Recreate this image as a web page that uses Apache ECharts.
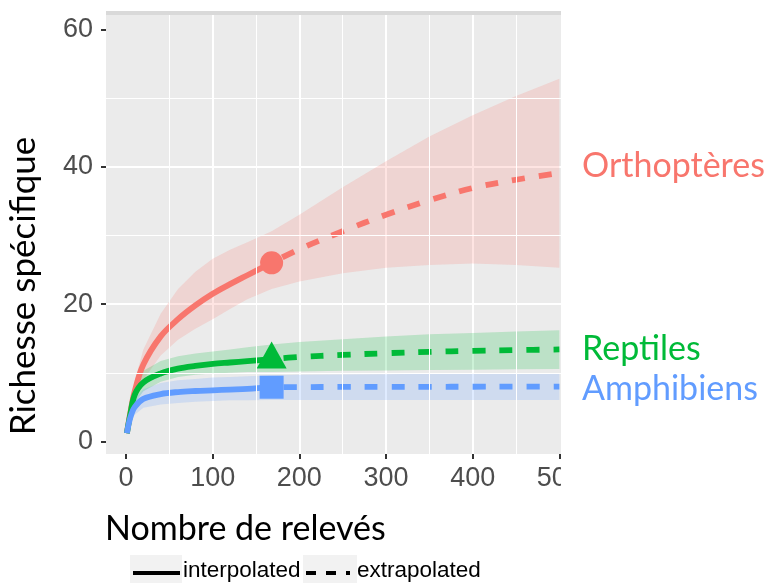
<!DOCTYPE html>
<html>
<head>
<meta charset="utf-8">
<script src="https://cdn.jsdelivr.net/npm/echarts@6/dist/echarts.min.js"></script>
<style>
html,body{margin:0;padding:0;background:#fff;}
#c{width:767px;height:585px;}
</style>
</head>
<body>
<div id="c"></div>
<script>
// ---- data ----
const groups = ['Orthoptères', 'Reptiles', 'Amphibiens'];
const colors = ['#F8766D', '#00BA38', '#619CFF'];
const xTicks = [0, 100, 200, 300, 400, 500];
const yTicks = [0, 20, 40, 60];
const minorX = [50, 150, 250, 350, 450];
const minorY = [10, 30, 50];

const interpX = [1, 5, 10, 20, 40, 60, 80, 100, 120, 140, 168];
const orthoInterp = [1.2, 4.2, 7.3, 11.2, 15.3, 17.8, 19.8, 21.5, 22.9, 24.2, 26.0];
const reptInterp  = [1.2, 4.0, 6.8, 8.6, 9.9, 10.6, 11.0, 11.3, 11.5, 11.7, 12.0];
const ampInterp   = [1.2, 3.5, 5.0, 6.2, 6.9, 7.2, 7.35, 7.45, 7.55, 7.65, 7.9];

const extrapX = [168, 200, 250, 300, 350, 400, 450, 500];
const orthoExtrap = [26.0, 28.0, 30.6, 33.0, 35.1, 36.9, 38.1, 39.1];
const reptExtrap  = [12.0, 12.3, 12.6, 12.85, 13.05, 13.2, 13.3, 13.4];
const ampExtrap   = [7.9, 7.92, 7.94, 7.95, 7.96, 7.97, 7.98, 8.0];

const obsX = [168, 168, 168];
const obsY = [26, 12, 7.9];

const bandX = [1, 5, 10, 20, 40, 60, 80, 100, 120, 140, 168, 200, 250, 300, 350, 400, 450, 500];
const orthoLow = [1.0, 3.6, 5.8, 9.0, 12.5, 14.8, 16.4, 17.8, 19.3, 20.7, 22.2, 23.3, 24.5, 25.3, 25.7, 25.9, 25.7, 25.3];
const orthoUp  = [1.3, 5.0, 8.8, 13.4, 18.6, 22.2, 24.7, 26.6, 27.9, 29.0, 30.6, 33.0, 37.0, 40.8, 44.4, 47.5, 50.3, 52.8];
const reptLow  = [1.0, 3.3, 5.6, 7.3, 8.7, 9.4, 9.7, 9.9, 10.0, 10.1, 10.1, 10.2, 10.3, 10.35, 10.4, 10.45, 10.5, 10.55];
const reptUp   = [1.3, 4.8, 8.0, 10.3, 11.7, 12.4, 12.8, 13.1, 13.4, 13.7, 14.1, 14.5, 14.9, 15.3, 15.6, 15.8, 16.0, 16.2];
const ampLow   = [1.0, 2.7, 3.9, 4.9, 5.4, 5.6, 5.8, 5.9, 6.0, 6.0, 6.05, 6.05, 6.05, 6.05, 6.05, 6.05, 6.05, 6.05];
const ampUp    = [1.3, 4.2, 6.2, 7.6, 8.5, 8.9, 9.1, 9.3, 9.4, 9.5, 9.65, 9.7, 9.75, 9.8, 9.85, 9.85, 9.9, 9.9];

const legendLabels = ['interpolated', 'extrapolated'];
const xTitle = 'Nombre de relevés';
const yTitle = 'Richesse spécifique';

// ---- build ----
const zip = (xs, ys) => xs.map((x, i) => [x, ys[i]]);
const interps = [orthoInterp, reptInterp, ampInterp];
const extraps = [orthoExtrap, reptExtrap, ampExtrap];
const lows = [orthoLow, reptLow, ampLow];
const ups = [orthoUp, reptUp, ampUp];
const symbols = ['circle', 'triangle', 'rect'];
const symbolSizes = [23, [30, 27], [24, 23]];
const symbolOffsets = [[0, 0], [0, -4], [0, 0]];

const series = [];
// minor gridlines (drawn beneath everything)
series.push({
  type: 'line', data: [], z: 1, silent: true, animation: false,
  markLine: {
    silent: true, symbol: ['none', 'none'], animation: false,
    label: { show: false },
    lineStyle: { color: '#ffffff', width: 1, type: 'solid' },
    data: minorX.map(v => ({ xAxis: v })).concat(minorY.map(v => ({ yAxis: v })))
  }
});
// ribbons (confidence bands) as polygons through the axis scales
groups.forEach((g, k) => {
  series.push({
    type: 'custom', name: g + ' CI', z: 2, silent: true, animation: false,
    data: [[bandX[0], lows[k][0]]],
    clip: true,
    renderItem: function (params, api) {
      const pts = [];
      for (let i = 0; i < bandX.length; i++) pts.push(api.coord([bandX[i], ups[k][i]]));
      for (let i = bandX.length - 1; i >= 0; i--) pts.push(api.coord([bandX[i], lows[k][i]]));
      return {
        type: 'polygon',
        shape: { points: pts },
        style: { fill: colors[k], opacity: 0.2 }
      };
    }
  });
});
// lines and observed points
groups.forEach((g, k) => {
  series.push({
    name: g + ' interpolated', type: 'line', data: zip(interpX, interps[k]), z: 3,
    smooth: 0.35, symbol: 'none', animation: false,
    lineStyle: { color: colors[k], width: 5.8, cap: 'butt', join: 'round' }
  });
  series.push({
    name: g + ' extrapolated', type: 'line', data: zip(extrapX, extraps[k]), z: 3,
    smooth: 0.35, symbol: 'none', animation: false,
    lineStyle: { color: colors[k], width: 5.8, type: [13, 14], dashOffset: -12, cap: 'butt' }
  });
  series.push({
    name: g, type: 'scatter', data: [[obsX[k], obsY[k]]], z: 4,
    symbol: symbols[k], symbolSize: symbolSizes[k], symbolOffset: symbolOffsets[k],
    itemStyle: { color: colors[k], opacity: 1 }, animation: false
  });
});

const labelFont = 'Lato, "Open Sans", sans-serif';
const tickFont = '"Liberation Sans", Arial, sans-serif';

const option = {
  animation: false,
  grid: {
    left: 106, top: 11, width: 455, height: 443,
    show: true, backgroundColor: '#EBEBEB', borderWidth: 0
  },
  xAxis: {
    type: 'value', min: -23.1, max: 501.9, splitNumber: 5,
    axisLine: { show: false, onZero: false },
    axisTick: { show: true, length: 5, lineStyle: { color: '#333333', width: 2 }, customValues: xTicks },
    axisLabel: {
      customValues: xTicks, margin: 11, color: '#4D4D4D', fontSize: 27, fontFamily: tickFont,
      formatter: v => (xTicks.indexOf(v) >= 0 ? String(v) : '')
    },
    splitLine: { show: true, showMinLine: false, showMaxLine: false, lineStyle: { color: '#ffffff', width: 2 } }
  },
  yAxis: {
    type: 'value', min: -1.82, max: 62.66, splitNumber: 3,
    axisLine: { show: false, onZero: false },
    axisTick: { show: true, length: 5, lineStyle: { color: '#333333', width: 2 }, customValues: yTicks },
    axisLabel: {
      customValues: yTicks, margin: 13, color: '#4D4D4D', fontSize: 27, fontFamily: tickFont,
      formatter: v => (yTicks.indexOf(v) >= 0 ? String(v) : '')
    },
    splitLine: { show: true, showMinLine: false, showMaxLine: false, lineStyle: { color: '#ffffff', width: 2 } }
  },
  series: series,
  graphic: [
    // top strip
    { type: 'rect', z: 50, shape: { x: 106, y: 11, width: 455, height: 4 }, style: { fill: '#D9D9D9' } },
    // crop at right edge
    { type: 'rect', z: 100, shape: { x: 561, y: 0, width: 206, height: 505 }, style: { fill: '#ffffff' } },
    // group labels
    { type: 'text', z: 110, x: 582, y: 166, style: { text: groups[0], fill: colors[0], font: '34px ' + labelFont, verticalAlign: 'middle' } },
    { type: 'text', z: 110, x: 582, y: 349, style: { text: groups[1], fill: colors[1], font: '34px ' + labelFont, verticalAlign: 'middle' } },
    { type: 'text', z: 110, x: 582, y: 389, style: { text: groups[2], fill: colors[2], font: '34px ' + labelFont, verticalAlign: 'middle' } },
    // axis titles
    { type: 'text', z: 110, x: 105, y: 529, style: { text: xTitle, fill: '#000', font: '34px ' + labelFont, verticalAlign: 'middle' } },
    { type: 'text', z: 110, x: 24, y: 286, rotation: Math.PI / 2, style: { text: yTitle, fill: '#000', font: '35px ' + labelFont, verticalAlign: 'middle', align: 'center' } },
    // legend
    { type: 'rect', z: 110, shape: { x: 130, y: 555, width: 52, height: 28 }, style: { fill: '#F2F2F2' } },
    { type: 'rect', z: 110, shape: { x: 303, y: 555, width: 54, height: 28 }, style: { fill: '#F2F2F2' } },
    { type: 'line', z: 111, shape: { x1: 133, y1: 573, x2: 180, y2: 573 }, style: { stroke: '#000', lineWidth: 4 } },
    { type: 'line', z: 111, shape: { x1: 306, y1: 573, x2: 350, y2: 573 }, style: { stroke: '#000', lineWidth: 4, lineDash: [10, 10] } },
    { type: 'text', z: 111, x: 183, y: 571, style: { text: legendLabels[0], fill: '#000', font: '22.5px ' + tickFont, verticalAlign: 'middle' } },
    { type: 'text', z: 111, x: 357, y: 571, style: { text: legendLabels[1], fill: '#000', font: '22.5px ' + tickFont, verticalAlign: 'middle' } }
  ]
};

const chart = echarts.init(document.getElementById('c'), null, { renderer: 'canvas' });
chart.setOption(option);
</script>
</body>
</html>
